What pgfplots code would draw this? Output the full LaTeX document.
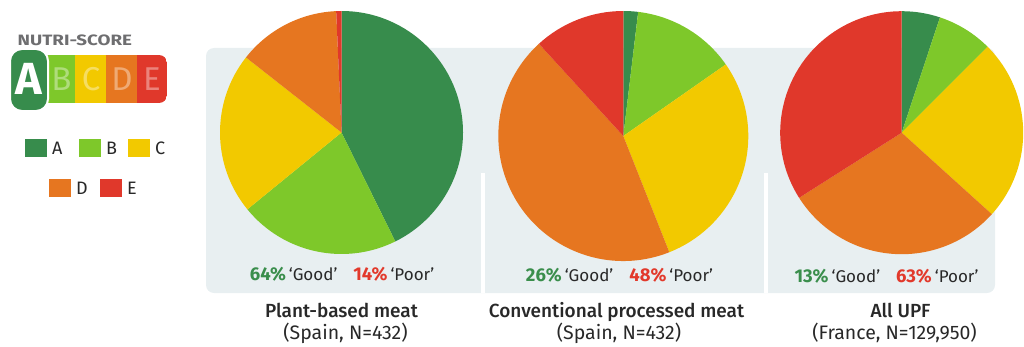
\documentclass[border=0pt]{standalone}
\usepackage{pgfplots}
\pgfplotsset{compat=1.18}
\usepackage{pgfplotstable}
\usepackage{fontspec}
\setmainfont{Fira Sans}
\newfontfamily\medfont{Fira Sans Medium}
\definecolor{cA}{RGB}{55,140,76}
\definecolor{cB}{RGB}{126,200,42}
\definecolor{cC}{RGB}{242,201,0}
\definecolor{cD}{RGB}{230,118,32}
\definecolor{cE}{RGB}{224,56,43}
\definecolor{panel}{RGB}{232,239,241}
\definecolor{txt}{RGB}{40,40,40}
\definecolor{logogray}{RGB}{110,110,112}
\definecolor{goodc}{RGB}{58,142,76}
\definecolor{poorc}{RGB}{226,57,43}

\pgfplotstableread{
grade share
A 42.7
B 21.4
C 21.5
D 13.7
E 0.7
}\pieone
\pgfplotstableread{
grade share
A 1.9
B 13.4
C 28.7
D 44.2
E 11.8
}\pietwo
\pgfplotstableread{
grade share
A 5.1
B 7.4
C 24.2
D 29.3
E 34.0
}\piethree

\newcommand\drawpie[2]{%
  \pgfplotsextra{%
    \gdef\cum{0}%
    \foreach \c [count=\i from 0] in {cA,cB,cC,cD,cE}{%
      \pgfplotstablegetelem{\i}{share}\of#1%
      \let\myv\pgfplotsretval
      \pgfmathsetmacro\sa{90-3.6*\cum}%
      \pgfmathsetmacro\sb{90-3.6*(\cum+\myv)}%
      \fill[\c] (axis cs:0,0) -- (axis cs:{cos(\sa)},{sin(\sa)}) arc[start angle=\sa, end angle=\sb, radius=#2] -- cycle;%
      \pgfmathsetmacro\nn{\cum+\myv}%
      \xdef\cum{\nn}%
    }%
  }%
}
\pgfplotsset{pieaxis/.style={anchor=center, hide axis, scale only axis, xmin=-1,xmax=1,ymin=-1,ymax=1, enlargelimits=false}}

\begin{document}
\begin{tikzpicture}[x=1pt,y=1pt]
\path[use as bounding box] (0,0) rectangle (1024,346);
% panel
\fill[panel, rounded corners=8pt] (206,298) rectangle (995,53);
% pies
\begin{axis}[pieaxis, at={(341.5pt,213.5pt)}, width=243pt, height=243pt]
\addplot[draw=none] coordinates {(0,0)};
\drawpie{\pieone}{121.5pt}
\end{axis}
\begin{axis}[pieaxis, at={(623.3pt,210pt)}, width=250pt, height=250pt]
\addplot[draw=none] coordinates {(0,0)};
\drawpie{\pietwo}{125pt}
\end{axis}
\begin{axis}[pieaxis, at={(901.7pt,213.3pt)}, width=243pt, height=243pt]
\addplot[draw=none] coordinates {(0,0)};
\drawpie{\piethree}{121.5pt}
\end{axis}
% separators
\fill[white] (481,53) rectangle (484.5,173.5);
\fill[white] (764,53) rectangle (767.5,173.5);
% labels in panel
\newcommand\lab[2]{{\fontsize{18.5}{20}\selectfont\bfseries\color{goodc}#1\%}\hspace{3pt}{\fontsize{17}{20}\selectfont\color{txt}`Good'}\hspace{16pt}{\fontsize{18.5}{20}\selectfont\bfseries\color{poorc}#2\%}\hspace{3pt}{\fontsize{17}{20}\selectfont\color{txt}`Poor'}}
\node[anchor=base] at (342,65.5) {\lab{64}{14}};
\node[anchor=base] at (619.5,64.5) {\lab{26}{48}};
\node[anchor=base] at (886.5,63.5) {\lab{13}{63}};
% titles
\node[anchor=base, text=txt, font=\fontsize{19}{20}\selectfont\medfont] at (341.5,29) {Plant-based meat};
\node[anchor=base, text=txt, font=\fontsize{19.5}{20}\selectfont] at (345.5,7) {(Spain, N=432)};
\node[anchor=base, text=txt, font=\fontsize{19}{20}\selectfont\medfont] at (616.5,29) {Conventional processed meat};
\node[anchor=base, text=txt, font=\fontsize{19.5}{20}\selectfont] at (619,7) {(Spain, N=432)};
\node[anchor=base, text=txt, font=\fontsize{19}{20}\selectfont\medfont] at (900.5,29) {All UPF};
\node[anchor=base, text=txt, font=\fontsize{19.5}{20}\selectfont] at (894.5,7) {(France, N=129,950)};
% Nutri-score logo
\node[anchor=west, inner sep=0pt, text=logogray, font=\fontsize{15}{15}\selectfont\bfseries] at (17.5,306) {\scalebox{1.25}[1]{NUTRI-SCORE}};
\begin{scope}
\clip[rounded corners=8pt] (30,243) rectangle (167,291);
\fill[cB] (30,243) rectangle (75,291);
\fill[cC] (75,243) rectangle (106,291);
\fill[cD] (106,243) rectangle (137,291);
\fill[cE] (137,243) rectangle (167,291);
\end{scope}
\foreach \L/\xx in {B/61.5,C/91,D/122,E/152}{
  \node[text=white, text opacity=0.38, font=\fontsize{33}{33}\selectfont] at (\xx,267) {\L};
}
\filldraw[fill=cA, draw=white, line width=2pt, rounded corners=12pt] (10,297) rectangle (48,235);
\node[text=white, font=\fontsize{45}{45}\selectfont\bfseries] at (29,267) {A};
% legend
\foreach \c/\L/\xa/\ya in {cA/A/25/189,cB/B/79/189,cC/C/128/189,cD/D/49/149,cE/E/100/149}{
  \fill[\c] (\xa,\ya) rectangle ++(22,18);
  \node[anchor=west, inner sep=0pt, text=txt, font=\fontsize{18}{18}\selectfont] at (\xa+27,\ya+9) {\L};
}
\end{tikzpicture}
\end{document}
